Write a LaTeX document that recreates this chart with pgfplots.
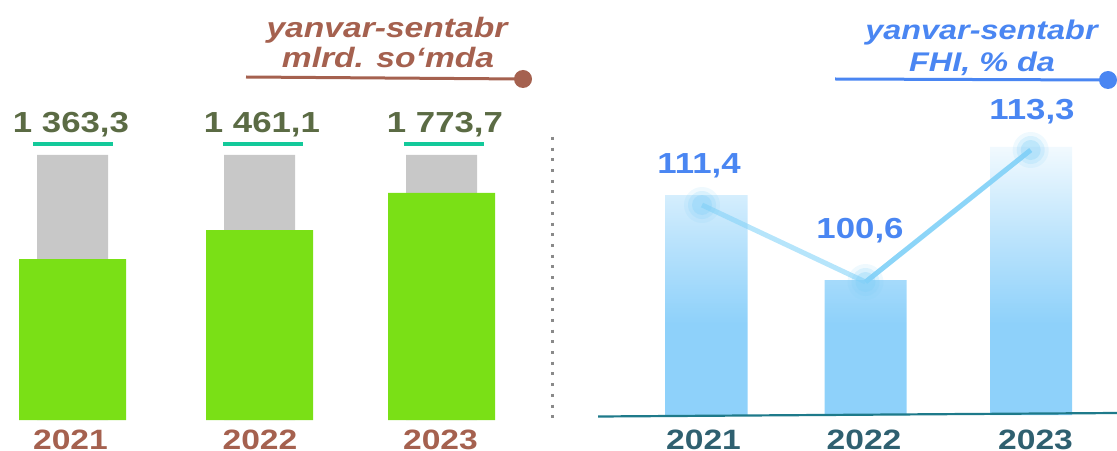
\documentclass[border=0pt]{standalone}
\usepackage{fontspec}
\setmainfont{Liberation Sans}[FakeStretch=1.2]
\usepackage{pgfplots}
\pgfplotsset{compat=1.18}
\definecolor{greenc}{HTML}{7AE016}
\definecolor{greyc}{HTML}{C8C8C8}
\definecolor{olivec}{HTML}{5B6B44}
\definecolor{tealc}{HTML}{13C99A}
\definecolor{brownc}{HTML}{A5614F}
\definecolor{bluec}{HTML}{4A86F2}
\definecolor{yearc}{HTML}{2F6070}
\definecolor{axisc}{HTML}{1E7A8A}
\definecolor{barc}{HTML}{8ED1FA}
\definecolor{linec}{HTML}{86D3F8}
\definecolor{glowc}{HTML}{7FCFF8}
\definecolor{dotc}{HTML}{8A8A8A}
\pgfdeclareverticalshading{barshade}{100bp}{%
  color(0bp)=(barc); color(25bp)=(barc); color(42bp)=(barc);
  color(58bp)=(barc!60); color(75bp)=(barc!12); color(100bp)=(barc!12)}
\begin{document}
\begin{tikzpicture}
% ---------- left panel: bars (heights read in pixels of the picture) ----------
\begin{axis}[
  at={(0pt,15pt)}, anchor=south west,
  scale only axis, x=0.5pt, y=0.5pt,
  xmin=0, xmax=552, ymin=0, ymax=300,
  axis line style={draw=none}, ytick=\empty,
  xtick={70.5,260,440.5}, xticklabels={2021,2022,2023},
  major tick length=0pt,
  xticklabel style={font=\bfseries\fontsize{14}{14}\selectfont, text=brownc,
    anchor=north, inner sep=0pt, yshift=-5pt},
  clip=false,
]
\addplot[ybar, bar shift=0pt, bar width=35.5pt, fill=greyc, draw=none]
  coordinates {(72.5,265) (259.5,265) (441.5,265)};
\addplot[ybar, bar shift=0pt, bar width=53.5pt, fill=greenc, draw=none]
  coordinates {(72.5,161) (259.5,190) (441.5,227)};
\node[anchor=base, text=olivec, font=\bfseries\fontsize{14.5}{14.5}\selectfont]
  at (axis cs:71,287) {1 363,3};
\node[anchor=base, text=olivec, font=\bfseries\fontsize{14.5}{14.5}\selectfont]
  at (axis cs:262,287) {1 461,1};
\node[anchor=base, text=olivec, font=\bfseries\fontsize{14.5}{14.5}\selectfont]
  at (axis cs:445,287) {1 773,7};
\draw[tealc, line width=1.75pt] (axis cs:33,276) -- (axis cs:113,276);
\draw[tealc, line width=1.75pt] (axis cs:223,276) -- (axis cs:303,276);
\draw[tealc, line width=1.75pt] (axis cs:404,276) -- (axis cs:484,276);
\end{axis}
% ---------- right panel ----------
\begin{axis}[
  at={(276pt,17.5pt)}, anchor=south west,
  scale only axis, x=0.5pt, y=0.5pt,
  xmin=552, xmax=1117, ymin=0, ymax=300,
  axis line style={draw=none}, ytick=\empty,
  xtick={703.5,864,1035.5}, xticklabels={2021,2022,2023},
  major tick length=0pt,
  xticklabel style={font=\bfseries\fontsize{14}{14}\selectfont, text=yearc,
    anchor=north, inner sep=0pt, yshift=-7.5pt},
  clip=false,
]
\addplot[ybar, bar shift=0pt, bar width=41pt, draw=none, shading=barshade]
  coordinates {(706.5,220) (865.5,135) (1031,268)};
\draw[axisc, line width=1.1pt] (axis cs:598,-1.5) -- (axis cs:1117,2);
\addplot[color=glowc, only marks, mark=*, mark size=9pt,
  mark options={draw opacity=0, fill opacity=0.12}]
  coordinates {(702,210) (865.5,133) (1030.7,265)};
\addplot[color=glowc, only marks, mark=*, mark size=7pt,
  mark options={draw opacity=0, fill opacity=0.2}]
  coordinates {(702,210) (865.5,133) (1030.7,265)};
\addplot[color=glowc, only marks, mark=*, mark size=5pt,
  mark options={draw opacity=0, fill opacity=0.3}]
  coordinates {(702,210) (865.5,133) (1030.7,265)};
\addplot[linec, line width=2.5pt, opacity=0.6, mark=none]
  coordinates {(702,210) (865.5,133)};
\addplot[linec, line width=2.5pt, opacity=0.95, mark=none]
  coordinates {(865.5,133) (1030.7,265)};
\node[anchor=base, text=bluec, font=\bfseries\fontsize{14.5}{14.5}\selectfont]
  at (axis cs:699,242) {111,4};
\node[anchor=base, text=bluec, font=\bfseries\fontsize{14.5}{14.5}\selectfont]
  at (axis cs:860,177) {100,6};
\node[anchor=base, text=bluec, font=\bfseries\fontsize{14.5}{14.5}\selectfont]
  at (axis cs:1032,295) {113,3};
\end{axis}
% ---------- headers, separator (pixel coordinates, y upward) ----------
\begin{scope}[x=0.5pt, y=0.5pt]
\node[anchor=base, text=brownc, inner sep=0pt,
  font=\bfseries\itshape\fontsize{14}{14}\selectfont] at (387,412) {yanvar-sentabr};
\node[anchor=base, text=brownc, inner sep=0pt,
  font=\bfseries\itshape\fontsize{14}{14}\selectfont] at (388,382) {mlrd. so‘mda};
\draw[brownc, line width=1.5pt] (246,373) -- (523,371);
\fill[brownc] (523,371) circle (9);
\node[anchor=base, text=bluec, inner sep=0pt,
  font=\bfseries\itshape\fontsize{13.5}{13.5}\selectfont] at (981.5,410) {yanvar-sentabr};
\node[anchor=base, text=bluec, inner sep=0pt,
  font=\bfseries\itshape\fontsize{13.5}{13.5}\selectfont] at (982,378) {FHI, \% da};
\draw[bluec, line width=1.5pt] (835,371) -- (1108,370);
\fill[bluec] (1108,370) circle (9);
\draw[dotc, line width=1.5pt, dash pattern=on 1.5pt off 3.85pt] (552,313) -- (552,25);
\pgfresetboundingbox
\path (0,0) rectangle (1117,450);
\end{scope}
\end{tikzpicture}
\end{document}
